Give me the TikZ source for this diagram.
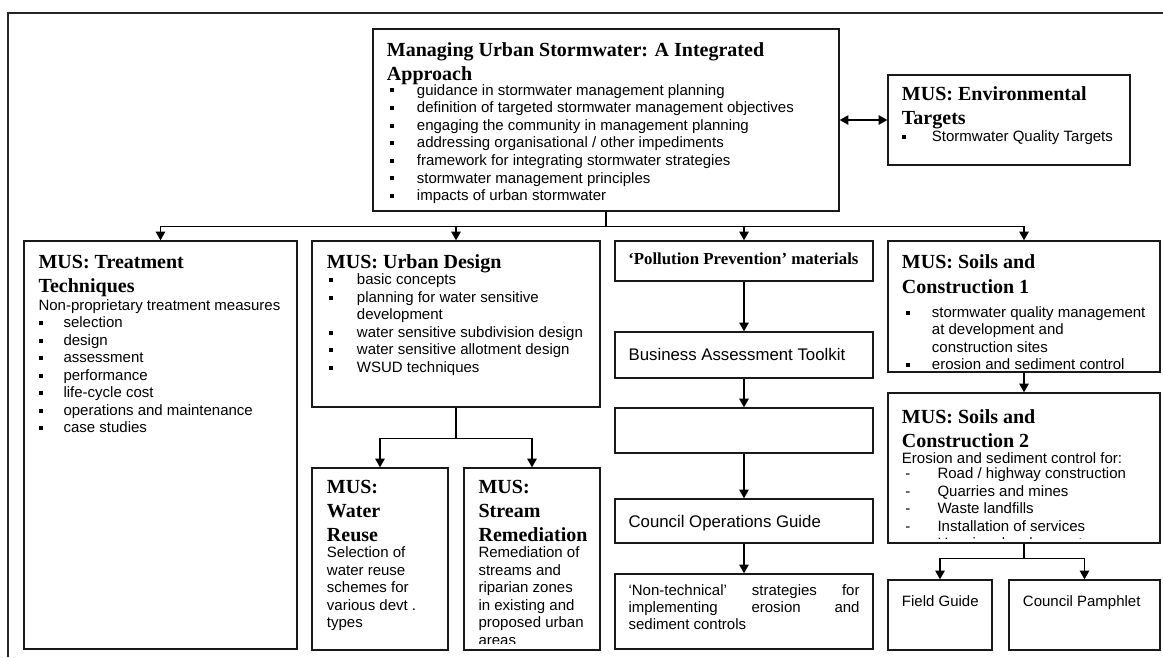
\documentclass[tikz,border=0pt]{standalone}
\usepackage{fontspec}
\setmainfont{Liberation Serif}
\setsansfont{Liberation Sans}
\usetikzlibrary{arrows.meta,fit}

\newcommand\Tf{\rmfamily\bfseries\fontsize{15pt}{18pt}\selectfont}
\newcommand\Bf{\sffamily\mdseries\fontsize{11.25pt}{13.1pt}\selectfont}
\newcommand\Mf{\sffamily\mdseries\fontsize{12.6pt}{15pt}\selectfont}
\newcommand\Pf{\rmfamily\bfseries\fontsize{12.6pt}{15pt}\selectfont}
\newcommand\myline[1]{\hbox{#1}}
\newcommand\mysq{\rule[2pt]{3pt}{3pt}}
\newcommand\mybul[3]{\hbox{\makebox[#1][l]{\hspace{#2}\mysq}#3}}
\newcommand\mydash[1]{\hbox{\makebox[26.7pt][l]{\hspace{2.5pt}-}#1}}

\begin{document}
\begin{tikzpicture}[x=0.75pt,y=-0.75pt,
  box/.style={draw=black!90,line width=1pt,inner sep=0pt,fit={#1}},
  txt/.style={inner sep=0pt,anchor=base west},
  conn/.style={line width=1.1pt},
  arr/.style={conn,-{Triangle[length=6.5pt,width=7pt]}},
  darr/.style={conn,{Triangle[length=6.5pt,width=7pt]}-{Triangle[length=6.5pt,width=7pt]}}]
\useasboundingbox (0,0) rectangle (1163,657);
\fill[white] (0,0) rectangle (1163,657);

% outer frame
\draw[line width=0.9pt,black!85] (1163,13) -- (8,13) -- (8,657);

% boxes
\node[box={(373,29) (839,211)}] (main) {};
\node[box={(888,75) (1130,165)}] (env) {};
\node[box={(24,241) (297,649)}] (treat) {};
\node[box={(312,241) (600,407)}] (urban) {};
\node[box={(312,468) (448,650)}] (reuse) {};
\node[box={(464,468) (600,650)}] (stream) {};
\node[box={(615,241) (873,281)}] (pp) {};
\node[box={(615,332) (873,378)}] (bat) {};
\node[box={(615,408) (873,453)}] (empty) {};
\node[box={(615,499) (873,543)}] (cog) {};
\node[box={(615,574) (873,649)}] (nontech) {};
\node[box={(888,241) (1160,372)}] (soilsA) {};
\node[box={(888,393) (1160,543)}] (soilsB) {};
\node[box={(888,580) (992,650)}] (field) {};
\node[box={(1009,580) (1160,650)}] (pamph) {};

% texts
\node[txt] (mainT) at (386.7,56) {\vtop{\Tf
  \myline{Managing Urban Stormwater: A Integrated}\myline{Approach}
  \Bf\baselineskip=13.2pt\vskip-1.9pt
  \mybul{22.5pt}{2pt}{guidance in stormwater management planning}
  \mybul{22.5pt}{2pt}{definition of targeted stormwater management objectives}
  \mybul{22.5pt}{2pt}{engaging the community in management planning}
  \mybul{22.5pt}{2pt}{addressing organisational / other impediments}
  \mybul{22.5pt}{2pt}{framework for integrating stormwater strategies}
  \mybul{22.5pt}{2pt}{stormwater management principles}
  \mybul{22.5pt}{2pt}{impacts of urban stormwater}}};

\node[txt] (envT) at (901.7,100.8) {\vtop{\Tf
  \myline{MUS: Environmental}\myline{Targets}
  \Bf\vskip-0.4pt
  \mybul{22.5pt}{0.3pt}{Stormwater Quality Targets}}};

\node[txt] (treatT) at (38.3,268.5) {\vtop{\Tf
  \myline{MUS: Treatment}\myline{Techniques}
  \Bf\vskip0.4pt
  \myline{Non-proprietary treatment measures}
  \mybul{18.75pt}{0.5pt}{selection}
  \mybul{18.75pt}{0.5pt}{design}
  \mybul{18.75pt}{0.5pt}{assessment}
  \mybul{18.75pt}{0.5pt}{performance}
  \mybul{18.75pt}{0.5pt}{life-cycle cost}
  \mybul{18.75pt}{0.5pt}{operations and maintenance}
  \mybul{18.75pt}{0.5pt}{case studies}}};

\node[txt] (urbanT) at (326.7,268.5) {\vtop{\Tf
  \myline{MUS: Urban Design}
  \Bf\vskip-0.8pt
  \mybul{22.5pt}{1.2pt}{basic concepts}
  \mybul{22.5pt}{1.2pt}{planning for water sensitive}
  \myline{\hspace{22.5pt}development}
  \mybul{22.5pt}{1.2pt}{water sensitive subdivision design}
  \mybul{22.5pt}{1.2pt}{water sensitive allotment design}
  \mybul{22.5pt}{1.2pt}{WSUD techniques}}};

\node[txt] (reuseT) at (326.7,493.5) {\vtop{\Tf
  \myline{MUS:}\myline{Water}\myline{Reuse}
  \Bf\vskip-0.9pt
  \myline{Selection of}
  \myline{water reuse}
  \myline{schemes for}
  \myline{various devt .}
  \myline{types}}};

\begin{scope}
\clip (464,468) rectangle (600,643);
\node[txt] (streamT) at (478.3,493.5) {\vtop{\Tf
  \myline{MUS:}\myline{Stream}\myline{Remediation}
  \Bf\vskip-0.9pt
  \myline{Remediation of}
  \myline{streams and}
  \myline{riparian zones}
  \myline{in existing and}
  \myline{proposed urban}
  \myline{areas}}};
\end{scope}

\node[txt] (ppT) at (628,264.3) {\Pf ‘Pollution Prevention’ materials};
\node[txt] (batT) at (628.3,360) {\Mf Business Assessment Toolkit};
\node[txt] (cogT) at (628.3,527.3) {\Mf Council Operations Guide};
\node[txt] (nontechT) at (628.3,595) {\vtop{\Bf
  \hbox{\makebox[173.25pt][s]{‘Non-technical’ strategies for}}
  \hbox{\makebox[173.25pt][s]{implementing erosion and}}
  \hbox{sediment controls}}};

\node[txt] (soilsAT) at (901.7,268.5) {\vtop{\Tf\baselineskip=18.75pt
  \myline{MUS: Soils and}\myline{Construction 1}
  \Bf\vskip4.8pt
  \mybul{22.5pt}{3pt}{stormwater quality management}
  \myline{\hspace{22.5pt}at development and}
  \myline{\hspace{22.5pt}construction sites}
  \mybul{22.5pt}{3pt}{erosion and sediment control}}};

\begin{scope}
\clip (888,393) rectangle (1160,538);
\node[txt] (soilsBT) at (901.7,423) {\vtop{\Tf\baselineskip=18pt
  \myline{MUS: Soils and}\myline{Construction 2}
  \Bf\vskip-0.7pt
  \myline{Erosion and sediment control for:}
  \vskip-1.8pt
  \mydash{Road / highway construction}
  \mydash{Quarries and mines}
  \mydash{Waste landfills}
  \mydash{Installation of services}
  \mydash{Housing developments}}};
\end{scope}

\node[txt] (fieldT) at (901.7,606) {\Bf Field Guide};
\node[txt] (pamphT) at (1022.7,606) {\Bf Council Pamphlet};

% connectors
\draw[darr] (main.east) -- (env.west);
\draw[conn] (main.south) -- ++(0,15) coordinate (bus);
\draw[arr] (bus) -| (treat.north);
\draw[arr] (bus) -| (urban.north);
\draw[arr] (bus) -| (pp.north);
\draw[arr] (bus) -| (soilsA.north);

\draw[conn] (urban.south) -- ++(0,31) coordinate (ubus);
\draw[arr] (ubus) -| (reuse.north);
\draw[arr] (ubus) -| (stream.north);

\draw[arr] (pp.south) -- (bat.north);
\draw[arr] (bat.south) -- (empty.north);
\draw[arr] (empty.south) -- (cog.north);
\draw[arr] (cog.south) -- (nontech.north);

\draw[arr] (soilsA.south) -- (soilsB.north);
\draw[conn] (soilsB.south) -- ++(0,15) coordinate (sbus);
\draw[arr] (sbus) -| (field.north);
\draw[arr] (sbus) -| (pamph.north);
\end{tikzpicture}
\end{document}
